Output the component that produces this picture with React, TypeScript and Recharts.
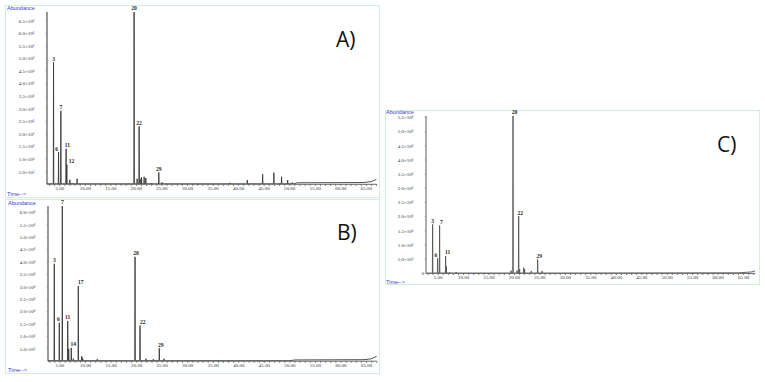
import { LabelList, Line, LineChart, XAxis, YAxis } from "recharts";

type Peak = [number, number, string?];

// retention time (min), abundance, peak number
const A_PEAKS: Peak[] = [
    [3.78, 4.85e6, "3"],
    [4.76, 1.28e6, "6"],
    [5.21, 2.92e6, "7"],
    [6.24, 1.41e6, "11"],
    [6.38, 0.78e6, "12"],
    [6.97, 0.18e6],
    [7.42, 0.05e6],
    [8.4, 0.22e6],
    [19.55, 6.85e6, "20"],
    [20.14, 0.22e6],
    [20.53, 2.3e6, "22"],
    [20.86, 0.22e6],
    [21.0, 0.28e6],
    [21.51, 0.3e6],
    [21.84, 0.25e6],
    [22.95, 0.05e6],
    [24.38, 0.47e6, "29"],
    [25.03, 0.08e6],
    [38.3, 0.06e6],
    [41.7, 0.17e6],
    [44.7, 0.4e6],
    [46.9, 0.46e6],
    [48.4, 0.3e6],
    [49.6, 0.17e6],
    [50.5, 0.07e6],
];

const B_PEAKS: Peak[] = [
    [3.89, 3.93e6, "3"],
    [4.87, 1.55e6, "6"],
    [5.46, 6.26e6, "7"],
    [6.52, 1.62e6, "11"],
    [6.71, 0.5e6],
    [7.22, 0.54e6, "14"],
    [7.61, 0.1e6],
    [8.59, 3.03e6, "17"],
    [9.26, 0.2e6],
    [9.45, 0.12e6],
    [11.5, 0.05e6],
    [12.3, 0.08e6],
    [19.69, 4.21e6, "20"],
    [20.67, 1.44e6, "22"],
    [21.84, 0.1e6],
    [23.27, 0.08e6],
    [24.44, 0.52e6, "29"],
    [25.36, 0.1e6],
];

const C_PEAKS: Peak[] = [
    [3.92, 1.73e6, "3"],
    [4.9, 0.53e6, "6"],
    [5.29, 1.69e6, "7"],
    [6.47, 0.61e6, "11"],
    [6.61, 0.26e6],
    [7.26, 0.05e6],
    [8.52, 0.05e6],
    [19.32, 0.1e6],
    [19.71, 5.55e6, "20"],
    [20.5, 0.1e6],
    [20.82, 2.02e6, "22"],
    [21.01, 0.15e6],
    [21.8, 0.2e6],
    [21.99, 0.15e6],
    [23.3, 0.08e6],
    [24.55, 0.49e6, "29"],
    [25.41, 0.08e6],
];

// baseline drift: time, abundance
const A_BASE: [number, number][] = [[2.5, 0.02e6], [50.8, 0.02e6], [51.5, 0.06e6], [64.5, 0.07e6], [66, 0.11e6], [67, 0.2e6]];
const B_BASE: [number, number][] = [[2.66, 0.02e6], [50, 0.02e6], [51, 0.05e6], [64.5, 0.06e6], [66, 0.1e6], [67, 0.2e6]];
const C_BASE: [number, number][] = [[2.62, 0.01e6], [64, 0.02e6], [66.5, 0.05e6], [67.3, 0.09e6]];

const A_Y_TICKS = [5e5, 1e6, 1.5e6, 2e6, 2.5e6, 3e6, 3.5e6, 4e6, 4.5e6, 5e6, 5.5e6, 6e6, 6.5e6];
const B_Y_TICKS = [5e5, 1e6, 1.5e6, 2e6, 2.5e6, 3e6, 3.5e6, 4e6, 4.5e6, 5e6, 5.5e6, 6e6];
const C_Y_TICKS = [0, 5e5, 1e6, 1.5e6, 2e6, 2.5e6, 3e6, 3.5e6, 4e6, 4.5e6, 5e6, 5.5e6];
const X_TICKS = [5, 10, 15, 20, 25, 30, 35, 40, 45, 50, 55, 60, 65];

const BLUE = "#3b3bd6";
const FRAME = "#cdf2d9";

const SUP: Record<string, string> = { "5": "⁵", "6": "⁶" };
function sci(v: number) {
    if (v === 0) return "0";
    const e = Math.floor(Math.log10(v) + 1e-9);
    return `${(v / 10 ** e).toFixed(1)}×10${SUP[String(e)]}`;
}

function buildTrace(peaks: Peak[], base: [number, number][]) {
    const b = base[0][1];
    const pts: { t: number; v: number; label?: string }[] = base.map(([t, v]) => ({ t, v }));
    for (const [t, h, label] of peaks) {
        pts.push({ t: t - 0.05, v: b }, { t, v: h, label }, { t: t + 0.05, v: b });
    }
    return pts.sort((a, b) => a.t - b.t);
}

const YW = 40;
const MT = 12;
const MR = 4;
const XH = 10;

function Panel({
    peaks,
    base,
    yTicks,
    yMax,
    x0,
    x1,
    y0,
    y1,
    t0,
    t1,
    stroke,
    axisColor,
    dx,
}: {
    peaks: Peak[];
    base: [number, number][];
    yTicks: number[];
    yMax: number;
    x0: number;
    x1: number;
    y0: number;
    y1: number;
    t0: number;
    t1: number;
    stroke: string;
    axisColor: string;
    dx: Record<string, number>;
}) {
    const data = buildTrace(peaks, base);
    const minor: number[] = [];
    for (let t = Math.ceil(t0); t <= t1; t++) minor.push(t);
    const w = x1 - x0 + YW + MR;
    const h = y1 - y0 + MT + XH + 2;
    return (
        <div style={{ position: "absolute", left: x0 - YW, top: y0 - MT }}>
            <LineChart width={w} height={h} data={data} margin={{ top: MT, right: MR, left: 0, bottom: 2 }}>
                <XAxis
                    dataKey="t"
                    type="number"
                    domain={[t0, t1]}
                    allowDataOverflow
                    ticks={minor}
                    interval={0}
                    height={XH}
                    tickSize={1.5}
                    tickMargin={0.5}
                    stroke="#666"
                    tick={{ fontSize: 5, fill: "#333", fontFamily: "Liberation Serif" }}
                    tickFormatter={(t: number) => (X_TICKS.includes(t) ? t.toFixed(2) : "")}
                />
                <YAxis
                    type="number"
                    domain={[0, yMax]}
                    allowDataOverflow
                    ticks={yTicks}
                    interval={0}
                    width={YW}
                    stroke={axisColor}
                    strokeWidth={axisColor === "#333" ? 1 : 1.6}
                    tickSize={1.5}
                    tickMargin={11}
                    tickLine={{ stroke: "#888", strokeWidth: 0.6 }}
                    tick={(p: any) => (
                        <text
                            x={p.x + (p.payload.value === 0 ? 10.5 : 0)}
                            y={p.y}
                            dy={1.8}
                            textAnchor="end"
                            fontSize={5}
                            fill="#333"
                            fontFamily="Liberation Serif"
                        >
                            {sci(p.payload.value)}
                        </text>
                    )}
                />
                <Line
                    type="linear"
                    dataKey="v"
                    stroke={stroke}
                    strokeWidth={0.9}
                    dot={false}
                    isAnimationActive={false}
                >
                    <LabelList
                        dataKey="label"
                        content={(p: any) =>
                            p.value ? (
                                <text
                                    x={Number(p.x) + (dx[p.value] ?? 0)}
                                    y={Number(p.y) - 1.6}
                                    textAnchor="middle"
                                    fontSize={5.6}
                                    fontWeight="bold"
                                    fill="#222"
                                    fontFamily="Liberation Serif"
                                >
                                    {p.value}
                                </text>
                            ) : null
                        }
                    />
                </Line>
            </LineChart>
        </div>
    );
}

function Frame({ x, y, w, h }: { x: number; y: number; w: number; h: number }) {
    return (
        <g>
            <rect x={x + 0.5} y={y + 0.5} width={w} height={h} fill="none" stroke={FRAME} strokeWidth={1} />
        </g>
    );
}

function Tags({ x, top, bottom }: { x: number; top: number; bottom: number }) {
    return (
        <g fontFamily="Liberation Sans" fontSize={5.5} fill={BLUE}>
            <text x={x} y={top}>Abundance</text>
            <text x={x} y={bottom}>Time--&gt;</text>
        </g>
    );
}

export default function App() {
    return (
        <div style={{ position: "absolute", left: 0, top: 0, width: 765, height: 382, background: "#fff" }}>
            <svg width={765} height={382} style={{ position: "absolute", left: 0, top: 0 }}>
                <Frame x={5} y={5} w={374} h={192} />
                <Frame x={5} y={199} w={374} h={174} />
                <Frame x={385} y={110} w={374} h={174} />
                <Tags x={7} top={10} bottom={195.5} />
                <Tags x={8} top={204.5} bottom={372} />
                <Tags x={386} top={114} bottom={284} />
                <g fontFamily="Open Sans" fontSize={21} fill="#111">
                    <text x={336} y={47}>A)</text>
                    <text x={337} y={240}>B)</text>
                    <text x={717} y={152}>C)</text>
                </g>
            </svg>
            <Panel
                peaks={A_PEAKS}
                base={A_BASE}
                yTicks={A_Y_TICKS}
                yMax={6.85e6}
                x0={47.2}
                x1={376.8}
                y0={12.3}
                y1={184.6}
                t0={2.5}
                t1={67}
                stroke="#3a3a3a"
                axisColor="#333"
                dx={{ "6": -2, "11": 1.4, "12": 4.7 }}
            />
            <Panel
                peaks={B_PEAKS}
                base={B_BASE}
                yTicks={B_Y_TICKS}
                yMax={6.26e6}
                x0={48}
                x1={376.8}
                y0={206.3}
                y1={361.5}
                t0={2.66}
                t1={67}
                stroke="#3a3a3a"
                axisColor="#333"
                dx={{ "6": -1, "14": 2, "17": 2.4, "20": 1, "22": 2.7, "29": 1.4 }}
            />
            <Panel
                peaks={C_PEAKS}
                base={C_BASE}
                yTicks={C_Y_TICKS}
                yMax={5.55e6}
                x0={425.7}
                x1={755}
                y0={116.3}
                y1={273.7}
                t0={2.62}
                t1={67.3}
                stroke="#555"
                axisColor="#999"
                dx={{ "6": -1.6, "7": 1.7, "11": 2, "20": 1.6, "22": 1.7, "29": 1.7 }}
            />
        </div>
    );
}
